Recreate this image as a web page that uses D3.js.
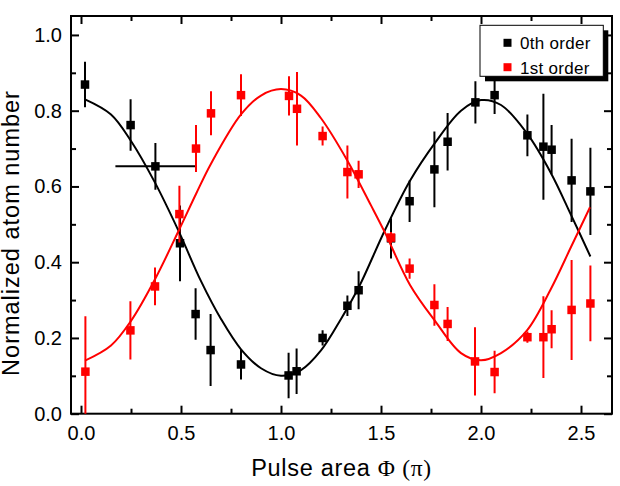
<html>
<head>
<script src="https://d3js.org/d3.v7.min.js"></script>
<style>
  body { margin: 0; background: #fff; }
  text { font-family: "Liberation Sans", Arial, sans-serif; }
  .axis .domain { display: none; }
  .axis line { stroke: #000; stroke-width: 2; }
</style>
</head>
<body>
<svg id="chart" width="620" height="486"></svg>
<script>
// 0th order data
const zeroX = [0.02, 0.248, 0.372, 0.495, 0.573, 0.648, 0.80, 1.038, 1.078, 1.208, 1.332, 1.388, 1.55, 1.643, 1.767, 1.833, 1.972, 2.068, 2.232, 2.312, 2.353, 2.453, 2.547];
const zeroY = [0.869, 0.762, 0.653, 0.45, 0.263, 0.168, 0.130, 0.101, 0.112, 0.200, 0.285, 0.326, 0.463, 0.561, 0.645, 0.718, 0.822, 0.841, 0.735, 0.705, 0.697, 0.616, 0.587];
const zeroErr = [0.06, 0.068, 0.062, 0.1, 0.068, 0.095, 0.04, 0.06, 0.06, 0.02, 0.027, 0.05, 0.053, 0.055, 0.1, 0.076, 0.056, 0.05, 0.055, 0.14, 0.065, 0.11, 0.115];
const zeroXErr = [0, 0, 0.2, 0, 0, 0, 0, 0, 0, 0, 0, 0, 0, 0, 0, 0, 0, 0, 0, 0, 0, 0, 0];

// 1st order data
const firstX = [0.022, 0.247, 0.37, 0.492, 0.575, 0.65, 0.80, 1.04, 1.08, 1.208, 1.332, 1.388, 1.55, 1.643, 1.767, 1.833, 1.97, 2.068, 2.232, 2.312, 2.353, 2.453, 2.547];
const firstY = [0.111, 0.22, 0.336, 0.527, 0.70, 0.793, 0.841, 0.839, 0.805, 0.733, 0.638, 0.632, 0.465, 0.383, 0.287, 0.237, 0.138, 0.11, 0.202, 0.202, 0.223, 0.274, 0.291];
const firstErr = [0.146, 0.077, 0.05, 0.075, 0.062, 0.058, 0.055, 0.052, 0.097, 0.025, 0.07, 0.036, 0.015, 0.027, 0.055, 0.045, 0.09, 0.056, 0.015, 0.108, 0.05, 0.132, 0.1];

// fit curves
const zeroFitX = [0.02, 0.15, 0.25, 0.37, 0.49, 0.6, 0.7, 0.8, 0.9, 1.0, 1.1, 1.2, 1.3, 1.39, 1.52, 1.645, 1.77, 1.9, 2.0, 2.1, 2.23, 2.35, 2.45, 2.547];
const zeroFitY = [0.83, 0.79, 0.72, 0.61, 0.48, 0.35, 0.25, 0.17, 0.12, 0.10, 0.115, 0.167, 0.25, 0.335, 0.485, 0.615, 0.715, 0.80, 0.828, 0.815, 0.74, 0.635, 0.525, 0.415];
const firstFitX = [0.02, 0.15, 0.25, 0.37, 0.49, 0.575, 0.65, 0.8, 0.9, 1.0, 1.1, 1.2, 1.33, 1.45, 1.52, 1.645, 1.77, 1.9, 2.0, 2.1, 2.23, 2.35, 2.45, 2.545];
const firstFitY = [0.14, 0.18, 0.245, 0.355, 0.485, 0.58, 0.66, 0.79, 0.84, 0.857, 0.84, 0.78, 0.67, 0.55, 0.478, 0.34, 0.245, 0.16, 0.141, 0.16, 0.22, 0.33, 0.44, 0.545];

const xMajor = [0, 0.5, 1.0, 1.5, 2.0, 2.5];
const xMinor = [0.25, 0.75, 1.25, 1.75, 2.25];
const yMajor = [0, 0.2, 0.4, 0.6, 0.8, 1.0];
const yMinor = [0.1, 0.3, 0.5, 0.7, 0.9];

const svg = d3.select('svg#chart');
const pLeft = 71, pRight = 612, pTop = 16, pBottom = 413.7;

const x = d3.scaleLinear().domain([-0.05, 2.655]).range([pLeft, pRight]);
const y = d3.scaleLinear().domain([0, 1.05]).range([pBottom, pTop]);

svg.append('clipPath').attr('id', 'clip')
  .append('rect').attr('x', pLeft).attr('y', pTop).attr('width', pRight - pLeft).attr('height', pBottom - pTop);

// axes: major + minor ticks on all four sides, pointing inward
function addAxis(axis, transform, cls) {
  svg.append('g').attr('class', 'axis ' + cls).attr('transform', transform).call(axis);
}
const fmt = d3.format('.1f');
addAxis(d3.axisBottom(x).tickValues(xMajor).tickSize(-8).tickSizeOuter(0).tickPadding(12).tickFormat(fmt), `translate(0,${pBottom})`, 'xb');
addAxis(d3.axisBottom(x).tickValues(xMinor).tickSize(-5).tickSizeOuter(0).tickFormat(''), `translate(0,${pBottom})`, 'xbm');
addAxis(d3.axisTop(x).tickValues(xMajor).tickSize(-8).tickSizeOuter(0).tickFormat(''), `translate(0,${pTop})`, 'xt');
addAxis(d3.axisTop(x).tickValues(xMinor).tickSize(-5).tickSizeOuter(0).tickFormat(''), `translate(0,${pTop})`, 'xtm');
addAxis(d3.axisLeft(y).tickValues(yMajor).tickSize(-8).tickSizeOuter(0).tickPadding(9).tickFormat(fmt), `translate(${pLeft},0)`, 'yl');
addAxis(d3.axisLeft(y).tickValues(yMinor).tickSize(-5).tickSizeOuter(0).tickFormat(''), `translate(${pLeft},0)`, 'ylm');
addAxis(d3.axisRight(y).tickValues(yMajor).tickSize(-8).tickSizeOuter(0).tickFormat(''), `translate(${pRight},0)`, 'yr');
addAxis(d3.axisRight(y).tickValues(yMinor).tickSize(-5).tickSizeOuter(0).tickFormat(''), `translate(${pRight},0)`, 'yrm');

svg.selectAll('.axis text').attr('font-size', 20).attr('fill', '#000')
  .attr('font-family', '"Liberation Sans", Arial, sans-serif');

// frame
svg.append('rect')
  .attr('x', pLeft).attr('y', pTop).attr('width', pRight - pLeft).attr('height', pBottom - pTop)
  .attr('fill', 'none').attr('stroke', '#000').attr('stroke-width', 2);

const plot = svg.append('g').attr('clip-path', 'url(#clip)');

function drawSeries(xs, ys, errs, xerrs, color) {
  const g = plot.append('g');
  xs.forEach((xv, i) => {
    g.append('line')
      .attr('x1', x(xv)).attr('x2', x(xv))
      .attr('y1', y(ys[i] - errs[i])).attr('y2', y(ys[i] + errs[i]))
      .attr('stroke', color).attr('stroke-width', 2);
    if (xerrs && xerrs[i] > 0) {
      g.append('line')
        .attr('x1', x(xv - xerrs[i])).attr('x2', x(xv + xerrs[i]))
        .attr('y1', y(ys[i])).attr('y2', y(ys[i]))
        .attr('stroke', color).attr('stroke-width', 2);
    }
  });
  xs.forEach((xv, i) => {
    g.append('rect')
      .attr('x', x(xv) - 4.25).attr('y', y(ys[i]) - 4.25)
      .attr('width', 8.5).attr('height', 8.5)
      .attr('fill', color);
  });
}

drawSeries(zeroX, zeroY, zeroErr, zeroXErr, '#000');
drawSeries(firstX, firstY, firstErr, null, '#ff0000');

const line = d3.line().x(d => x(d[0])).y(d => y(d[1])).curve(d3.curveCatmullRom);
plot.append('path')
  .attr('d', line(d3.zip(zeroFitX, zeroFitY)))
  .attr('fill', 'none').attr('stroke', '#000').attr('stroke-width', 2);
plot.append('path')
  .attr('d', line(d3.zip(firstFitX, firstFitY)))
  .attr('fill', 'none').attr('stroke', '#ff0000').attr('stroke-width', 2);

// legend with drop shadow
const legend = svg.append('g');
legend.append('rect').attr('x', 485).attr('y', 30.3).attr('width', 123.3).attr('height', 51)
  .attr('fill', '#000');
legend.append('rect').attr('x', 480).attr('y', 25.3).attr('width', 123.3).attr('height', 51)
  .attr('fill', '#fff').attr('stroke', '#000').attr('stroke-width', 1);
const legendItems = [['0th order', '#000'], ['1st order', '#ff0000']];
legendItems.forEach((d, i) => {
  const cy = 42.8 + i * 24.4;
  legend.append('rect').attr('x', 503.5).attr('y', cy - 4).attr('width', 8).attr('height', 8).attr('fill', d[1]);
  legend.append('text').attr('x', 520).attr('y', cy + 6.5).attr('font-size', 17)
    .attr('letter-spacing', 0.3).text(d[0]);
});

// axis titles
svg.append('text')
  .attr('transform', `translate(18.5,233) rotate(-90)`)
  .attr('text-anchor', 'middle').attr('font-size', 23.5).attr('letter-spacing', 1)
  .text('Normalized atom number');

const xt = svg.append('text')
  .attr('x', (pLeft + pRight) / 2).attr('y', 475.5)
  .attr('text-anchor', 'middle').attr('font-size', 23.5).attr('letter-spacing', 0.7);
xt.append('tspan').text('Pulse area ');
xt.append('tspan').attr('font-family', '"Liberation Serif", "Times New Roman", serif').text('\u03A6 (\u03C0)');
</script>
</body>
</html>
